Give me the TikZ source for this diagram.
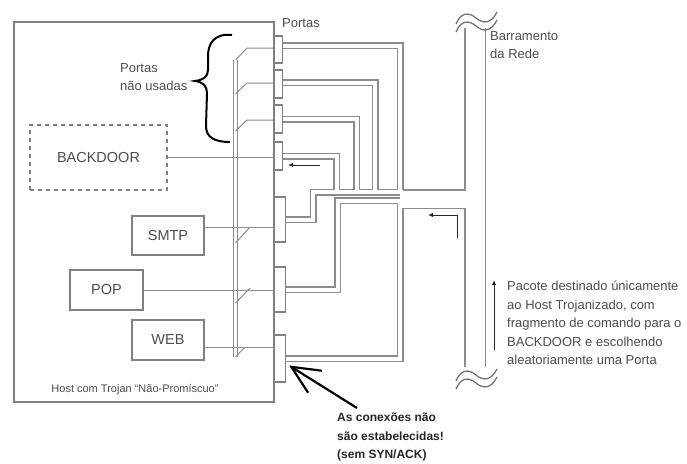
\documentclass[tikz,border=0pt]{standalone}
\usepackage{fontspec}
\setmainfont{Liberation Sans}
\usetikzlibrary{arrows.meta}

\begin{document}
\begin{tikzpicture}[x=1pt,y=-1pt,
  wire/.style={draw=black!45, line width=1pt},
  svcbox/.style={draw=black!50, line width=1.1pt, text=black!70, font=\fontsize{14.5}{16}\selectfont, inner sep=0pt},
  port/.style={draw=black!50, line width=1.1pt, minimum width=8pt, inner sep=0pt, anchor=west},
  lbl/.style={text=black!70, font=\fontsize{13}{18.5}\selectfont, inner sep=0pt, align=left},
  pkt/.style={black!85, line width=1pt, -{Latex[length=5pt,width=4.5pt]}},
  breakmark/.style={draw=black!55, line width=1.3pt}
]
\useasboundingbox (0,0) rectangle (687,463);

% host and its ports
\node[draw=black!50, line width=1.3pt, minimum width=260pt, minimum height=380pt, inner sep=0pt] (host) at (144,212) {};
\node[port, minimum height=27pt] (p1) at (274,49.5) {};
\node[port, minimum height=28pt] (p2) at (274,84) {};
\node[port, minimum height=28pt] (p3) at (274,119) {};
\node[port, minimum height=28pt] (p4) at (274,156) {};
\node[port, minimum width=11pt, minimum height=45pt] (p5) at (274,219.5) {};
\node[port, minimum width=11pt, minimum height=45pt] (p6) at (274,289.5) {};
\node[port, minimum width=11pt, minimum height=47pt] (p7) at (274,358.5) {};

% services
\node[svcbox, dash pattern=on 4pt off 4pt, minimum width=137pt, minimum height=65pt] (backdoor) at (98.5,157.5) {BACKDOOR};
\node[svcbox, minimum width=72pt, minimum height=39pt] (smtp) at (168,235.5) {SMTP};
\node[svcbox, minimum width=73pt, minimum height=40pt] (pop) at (106.5,290) {POP};
\node[svcbox, minimum width=72pt, minimum height=40pt] (web) at (168,340) {WEB};

% internal bus and switches
\coordinate (sw1) at (247,48);
\coordinate (sw2) at (247,83);
\coordinate (sw3) at (247,120);
\draw[wire, double, double distance=2.5pt] (235.5,60) -- (235.5,357);
\draw[wire] (235.5,60) -- (sw1) -- (sw1 -| p1.west);
\draw[wire] (235.5,94) -- (sw2) -- (sw2 -| p2.west);
\draw[wire] (235.5,131) -- (sw3) -- (sw3 -| p3.west);
\draw[wire] (backdoor.east) -- (backdoor.east -| p4.west);
\draw[wire] ([yshift=8.5pt]smtp.east) coordinate (w5) -- (w5 -| p5.west);
\draw[wire] (pop.east) -- (pop.east -| p6.west);
\draw[wire] ([yshift=-7pt]web.east) coordinate (w7) -- (w7 -| p7.west);
\foreach \ya/\xb/\yb in {243/250/227, 303/250/288, 357/245/347}
  \draw[wire] (235.5,\ya) -- (\xb,\yb);

% cables to the network bus
\coordinate (t1) at (400,192);
\coordinate (t2) at (375,192);
\coordinate (t3) at (356.5,192);
\coordinate (t4) at (336.5,192);
\coordinate (t5) at (313,192);
\coordinate (t6) at (337.5,200.5);
\coordinate (t7) at (400,200.5);
\coordinate (jl) at (400,199);
\coordinate (jr) at (470,199);
\coordinate (bustop) at (475,28);
\coordinate (busbot) at (475,367);
\foreach \col/\pw/\bw/\jw in {black!45/7/22/20, white/4/19/17} {
  \draw[draw=\col, line width=\bw pt] (bustop) -- (busbot);
  \draw[draw=\col, line width=\pw pt] ([yshift=4pt]p1.east) -| (t1);
  \draw[draw=\col, line width=\pw pt] ([yshift=1.5pt]p2.east) -| (t2);
  \draw[draw=\col, line width=\pw pt] (p3.east) -| (t3);
  \draw[draw=\col, line width=\pw pt] (p4.east) -| (t4);
  \draw[draw=\col, line width=\pw pt] (p5.east) -| (t5) -- ([xshift=3pt]t1);
  \draw[draw=\col, line width=\pw pt] (p6.east) -| (t6) -- (t7);
  \draw[draw=\col, line width=\pw pt] (p7.east) -| (t7);
  \draw[draw=\col, line width=\jw pt] (jl) -- (jr);
}

% breaks of the bus
\foreach \dy in {0,8,357,365} {
  \draw[breakmark] (456,24+\dy) .. controls (461,12+\dy) and (469,12+\dy) .. (476,18+\dy)
    .. controls (483,24+\dy) and (491,24+\dy) .. (497,12+\dy);
}

% brace of unused ports
\draw[black, line width=2pt] (232,35) .. controls (214,33) and (208,44) .. (208,56) -- (208,70)
  .. controls (208,77) and (203,80) .. (195,81) .. controls (203,82) and (207,86) .. (207,93)
  -- (206,126) .. controls (206,137) and (214,142) .. (230,142);

% packet arrows
\coordinate (a1) at (320,165);
\coordinate (a2) at (288,165);
\draw[pkt] (a1) -- (a2);
\coordinate (b1) at (457,238);
\coordinate (b2) at (428,215);
\draw[pkt] (b1) |- (b2);
\coordinate (c1) at (494,350);
\coordinate (c2) at (494,280);
\draw[pkt] (c1) -- (c2);

% labels
\node[lbl, anchor=center] (portas) at (301,23) {Portas};
\node[lbl, anchor=north west] (naousadas) at (120,63) {Portas\\não usadas};
\node[lbl, anchor=north west] (barr) at (490,31) {Barramento\\da Rede};
\node[lbl, anchor=north west] (pacote) at (507,281) {Pacote destinado únicamente\\ao Host Trojanizado, com\\fragmento de comando para o\\BACKDOOR e escolhendo\\aleatoriamente uma Porta};
\node[lbl, font=\fontsize{11}{13}\selectfont, anchor=center] (hostlbl) at (135,390) {Host com Trojan ``Não-Promíscuo''};
\node[lbl, font=\bfseries\fontsize{12}{18.5}\selectfont, text=black!85, anchor=north west] (conex) at (337,413) {As conexões não\\são estabelecidas!\\(sem SYN/ACK)};

% big arrow to the ports
\coordinate (bigtail) at (357,408);
\draw[black, line width=2.2pt, -{Straight Barb[length=28pt,width=26pt]}] (bigtail) -- ([shift={(3,7)}]p7.east);
\end{tikzpicture}
\end{document}
